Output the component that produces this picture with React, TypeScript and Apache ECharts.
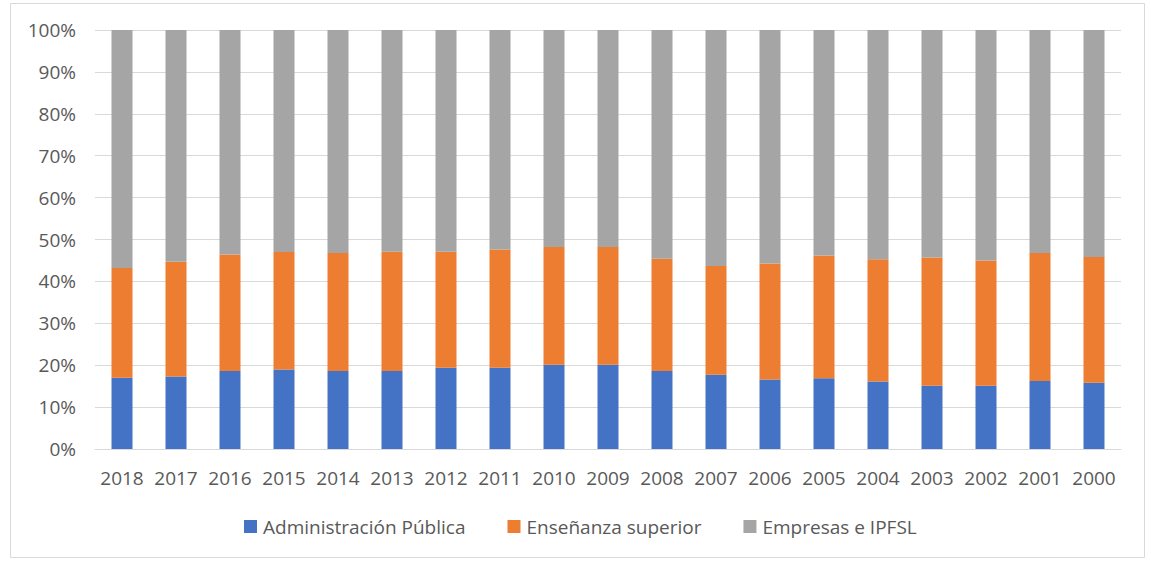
import React, { useEffect, useRef } from "react";
import * as echarts from "echarts";

const categories = ["2018","2017","2016","2015","2014","2013","2012","2011","2010","2009","2008","2007","2006","2005","2004","2003","2002","2001","2000"];
// Shares (%)
const adminPublica = [17.0,17.3,18.6,19.0,18.6,18.6,19.4,19.4,20.1,20.1,18.6,17.7,16.6,16.9,16.1,15.1,15.1,16.2,15.8];
const ensenanzaSuperior = [26.2,27.4,27.8,28.0,28.2,28.5,27.7,28.2,28.1,28.1,26.8,26.0,27.7,29.3,29.2,30.6,29.9,30.6,30.0];
const empresasIPFSL = [56.8,55.3,53.6,53.0,53.2,52.9,52.9,52.4,51.8,51.8,54.6,56.3,55.7,53.8,54.7,54.3,55.0,53.2,54.2];
const seriesNames = ["Administración Pública", "Enseñanza superior", "Empresas e IPFSL"];
const colors = ["#4472C4", "#ED7D31", "#A5A5A5"];

const FONT = "'Open Sans', 'DejaVu Sans', sans-serif";

export default function App() {
  const ref = useRef<HTMLDivElement>(null);
  useEffect(() => {
    if (!ref.current) return;
    const chart = echarts.init(ref.current, null, { renderer: "svg" });
    const data = [adminPublica, ensenanzaSuperior, empresasIPFSL];
    chart.setOption({
      animation: false,
      backgroundColor: "#ffffff",
      graphic: [
        {
          type: "rect",
          shape: { x: 10.5, y: 3.5, width: 1134, height: 554 },
          style: { fill: "none", stroke: "#D9D9D9", lineWidth: 1 },
          silent: true,
        },
      ],
      grid: { left: 95, right: 30, top: 30, bottom: 117 },
      legend: {
        left: 239,
        top: 512,
        itemWidth: 13,
        itemHeight: 13,
        itemGap: 42,
        icon: "rect",
        textStyle: { fontFamily: FONT, fontSize: 19, color: "#595959", padding: [0, 0, 0, 1] },
        data: seriesNames,
      },
      xAxis: {
        type: "category",
        data: categories,
        axisLine: { lineStyle: { color: "#D9D9D9", width: 1 } },
        axisTick: { show: false },
        axisLabel: { fontFamily: FONT, fontSize: 19, color: "#595959", margin: 19, interval: 0 },
      },
      yAxis: {
        type: "value",
        min: 0,
        max: 100,
        interval: 10,
        axisLine: { show: false },
        axisTick: { show: false },
        splitLine: { lineStyle: { color: "#D9D9D9", width: 1 } },
        axisLabel: { fontFamily: FONT, fontSize: 19, color: "#595959", margin: 19, formatter: "{value}%" },
      },
      series: seriesNames.map((name, i) => ({
        name,
        type: "bar",
        stack: "total",
        barWidth: 21,
        itemStyle: { color: colors[i] },
        data: data[i],
      })),
    });
    return () => chart.dispose();
  }, []);
  return (
    <div style={{ position: "absolute", left: 0, top: 0, width: 1151, height: 566, background: "#fff" }}>
      <div ref={ref} style={{ width: 1151, height: 566 }} />
    </div>
  );
}
